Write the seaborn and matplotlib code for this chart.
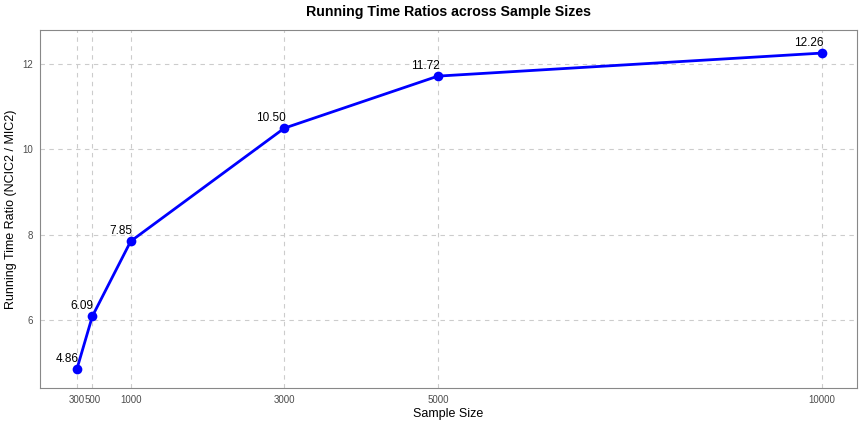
import numpy as np
import pandas as pd
import seaborn as sns
import matplotlib.pyplot as plt

# data
sample_sizes = [300, 500, 1000, 3000, 5000, 10000]
ratios = [4.86, 6.09, 7.85, 10.50, 11.72, 12.26]
y_ticks = [6, 8, 10, 12]

df = pd.DataFrame({'n': sample_sizes, 'ratio': ratios})

sns.set_style('white')
plt.rcParams['font.family'] = ['Liberation Sans', 'DejaVu Sans']

fig = plt.figure(figsize=(8.63, 4.29), dpi=100)
ax = fig.add_axes([0.0463, 0.0956, 0.9467, 0.8344])

sns.lineplot(data=df, x='n', y='ratio', color='#0000ff', linewidth=2,
             marker='o', markersize=7, markeredgewidth=0, ax=ax)

for x, y in zip(sample_sizes, ratios):
    ax.annotate(f'{y:.2f}', (x, y), xytext=(1, 3), textcoords='offset points',
                ha='right', va='bottom', fontsize=8.5, color='black')

ax.set_xlim(-182, 10456)
ax.set_ylim(4.41, 12.80)
ax.set_xticks(sample_sizes)
ax.set_xticklabels([str(s) for s in sample_sizes])
ax.set_yticks(y_ticks)
ax.grid(True, linestyle=(0, (4, 4)), color='#cccccc', linewidth=0.8)
ax.set_axisbelow(True)
for sp in ax.spines.values():
    sp.set_color('#888888')
    sp.set_linewidth(0.8)
ax.tick_params(axis='both', length=3, width=0.6, color='#888888',
               labelsize=7, labelcolor='#4d4d4d', pad=2)

ax.set_xlabel('Sample Size', fontsize=9, labelpad=2, color='black')
ax.set_ylabel('Running Time Ratio (NCIC2 / MIC2)', fontsize=9, labelpad=4, color='black')
ax.set_title('Running Time Ratios across Sample Sizes', fontsize=10.2,
             fontweight='bold', pad=10, color='black')

fig.savefig('out.png', dpi=100)
